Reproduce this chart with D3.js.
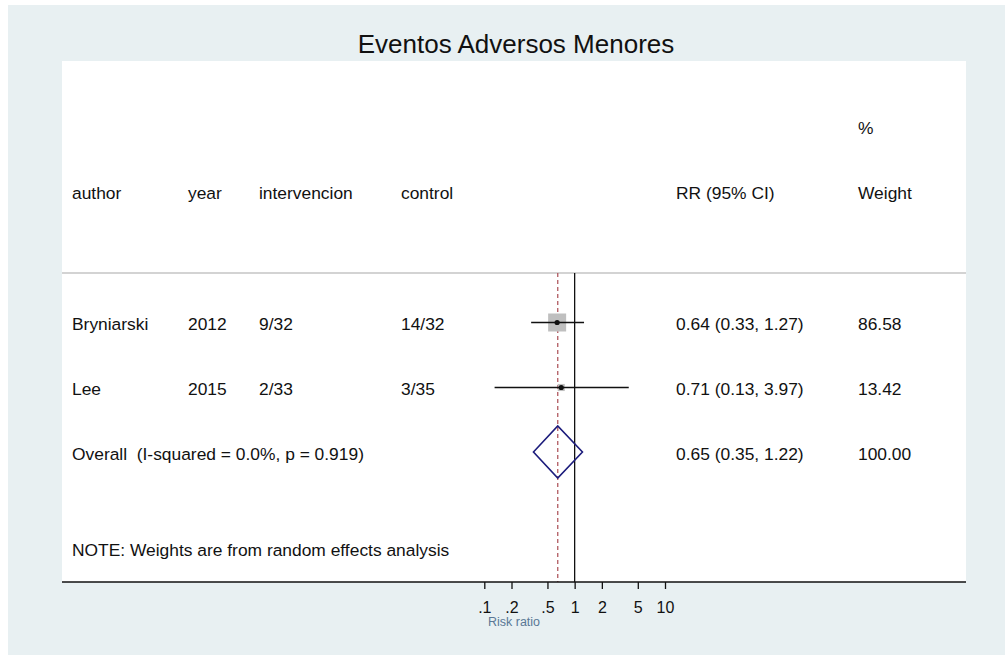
<!DOCTYPE html>
<html>
<head>
<meta charset="utf-8">
<script src="https://cdn.jsdelivr.net/npm/d3@7"></script>
<style>
  html, body { margin: 0; padding: 0; background: #ffffff; }
  svg { display: block; font-family: "Liberation Sans", Arial, Helvetica, sans-serif; }
  svg text { white-space: pre; }
</style>
</head>
<body>
<svg id="chart" width="1005" height="655"></svg>
<script>
// Study-level data
const authors = ["Bryniarski", "Lee"];
const years = ["2012", "2015"];
const interventionEvents = ["9/32", "2/33"];
const controlEvents = ["14/32", "3/35"];
const rr = [0.64, 0.71];
const rrLow = [0.33, 0.13];
const rrHigh = [1.27, 3.97];
const weights = [86.58, 13.42];

// Pooled (random effects) estimate
const overallRR = 0.65;
const overallLow = 0.35;
const overallHigh = 1.22;
const overallWeight = 100.00;
const iSquared = 0.0;
const pHet = 0.919;

// Axis ticks
const tickValues = [0.1, 0.2, 0.5, 1, 2, 5, 10];
const tickLabels = [".1", ".2", ".5", "1", "2", "5", "10"];

const svg = d3.select("#chart");
const fontSize = 17.4;

// Outer graph region and inner plot region
svg.append("rect").attr("x", 8).attr("y", 5).attr("width", 997).attr("height", 650).attr("fill", "#e8f0f2");
svg.append("rect").attr("x", 62).attr("y", 61).attr("width", 904).attr("height", 521).attr("fill", "#ffffff");

// Title
svg.append("text")
  .attr("x", 516).attr("y", 44).attr("dy", "0.35em")
  .attr("text-anchor", "middle")
  .attr("font-size", 26)
  .attr("fill", "#111")
  .text("Eventos Adversos Menores");

// Row positions (vertical)
const rowStep = 65;
const firstRow = 322.5;
const rowY = i => firstRow + i * rowStep;
const headerY = firstRow - 2 * rowStep;
const percentY = firstRow - 3 * rowStep;
const noteY = firstRow + 3.5 * rowStep;

// Horizontal scale for the risk ratio
const x = d3.scaleLog().domain([0.1, 10]).range([484.3, 665]);

const plotTop = 273;
const plotBottom = 582;

// Column positions
const col = { author: 72, year: 188, interv: 259, control: 401, rr: 676, weight: 858 };

function label(xp, yp, str, anchor) {
  svg.append("text")
    .attr("x", xp).attr("y", yp).attr("dy", "0.36em")
    .attr("font-size", fontSize)
    .attr("fill", "#111")
    .attr("text-anchor", anchor || "start")
    .text(str);
}

// Header
label(col.weight, percentY, "%");
label(col.author, headerY, "author");
label(col.year, headerY, "year");
label(col.interv, headerY, "intervencion");
label(col.control, headerY, "control");
label(col.rr, headerY, "RR (95% CI)");
label(col.weight, headerY, "Weight");

// Separator below header
svg.append("line")
  .attr("x1", 62).attr("x2", 966)
  .attr("y1", plotTop).attr("y2", plotTop)
  .attr("stroke", "#c4c4c4").attr("stroke-width", 1.5);

// Reference line at 1 (no effect)
svg.append("line")
  .attr("x1", x(1)).attr("x2", x(1))
  .attr("y1", plotTop).attr("y2", plotBottom)
  .attr("stroke", "#111").attr("stroke-width", 1.3);

// Overall effect line
svg.append("line")
  .attr("x1", x(overallRR)).attr("x2", x(overallRR))
  .attr("y1", plotTop).attr("y2", plotBottom)
  .attr("stroke", "#b05a60").attr("stroke-width", 1.3)
  .attr("stroke-dasharray", "4,3");

// Study rows
const boxScale = 18 / Math.sqrt(86.58);
const fmt2 = d3.format(".2f");
authors.forEach((a, i) => {
  const y = rowY(i);
  const side = boxScale * Math.sqrt(weights[i]);
  svg.append("rect")
    .attr("x", x(rr[i]) - side / 2).attr("y", y - side / 2)
    .attr("width", side).attr("height", side)
    .attr("fill", "#bfbfbf");
  svg.append("line")
    .attr("x1", x(rrLow[i])).attr("x2", x(rrHigh[i]))
    .attr("y1", y).attr("y2", y)
    .attr("stroke", "#111").attr("stroke-width", 1.6);
  svg.append("circle")
    .attr("cx", x(rr[i])).attr("cy", y).attr("r", 2.6)
    .attr("fill", "#111");

  label(col.author, y + 1, a);
  label(col.year, y + 1, years[i]);
  label(col.interv, y + 1, interventionEvents[i]);
  label(col.control, y + 1, controlEvents[i]);
  label(col.rr, y + 1, `${fmt2(rr[i])} (${fmt2(rrLow[i])}, ${fmt2(rrHigh[i])})`);
  label(col.weight, y + 1, fmt2(weights[i]));
});

// Pooled diamond
const oy = rowY(2) - 0.5;
const halfH = 26;
svg.append("path")
  .attr("d", `M${x(overallLow)},${oy} L${x(overallRR)},${oy - halfH} L${x(overallHigh)},${oy} L${x(overallRR)},${oy + halfH} Z`)
  .attr("fill", "none")
  .attr("stroke", "#1c1c7c").attr("stroke-width", 1.6);

label(col.author, rowY(2) + 1, `Overall  (I-squared = ${iSquared.toFixed(1)}%, p = ${pHet.toFixed(3)})`);
label(col.rr, rowY(2) + 1, `${fmt2(overallRR)} (${fmt2(overallLow)}, ${fmt2(overallHigh)})`);
label(col.weight, rowY(2) + 1, fmt2(overallWeight));

label(col.author, noteY, "NOTE: Weights are from random effects analysis");

// Horizontal axis
svg.append("line")
  .attr("x1", 62).attr("x2", 966)
  .attr("y1", plotBottom).attr("y2", plotBottom)
  .attr("stroke", "#111").attr("stroke-width", 1.3);

const axis = d3.axisBottom(x)
  .tickValues(tickValues)
  .tickFormat((d, i) => tickLabels[i])
  .tickSize(7)
  .tickPadding(12.5);

const gAxis = svg.append("g")
  .attr("transform", `translate(0,${plotBottom})`)
  .call(axis);
gAxis.select(".domain").remove();
gAxis.selectAll(".tick line").attr("stroke", "#111").attr("stroke-width", 1.3);
gAxis.selectAll(".tick text")
  .attr("font-size", 16)
  .attr("font-family", "Liberation Sans, Arial, sans-serif")
  .attr("fill", "#111");

// Axis title
svg.append("text")
  .attr("x", 514).attr("y", 622).attr("dy", "0.35em")
  .attr("text-anchor", "middle")
  .attr("font-size", 12.5)
  .attr("fill", "#5a7896")
  .text("Risk ratio");
</script>
</body>
</html>
